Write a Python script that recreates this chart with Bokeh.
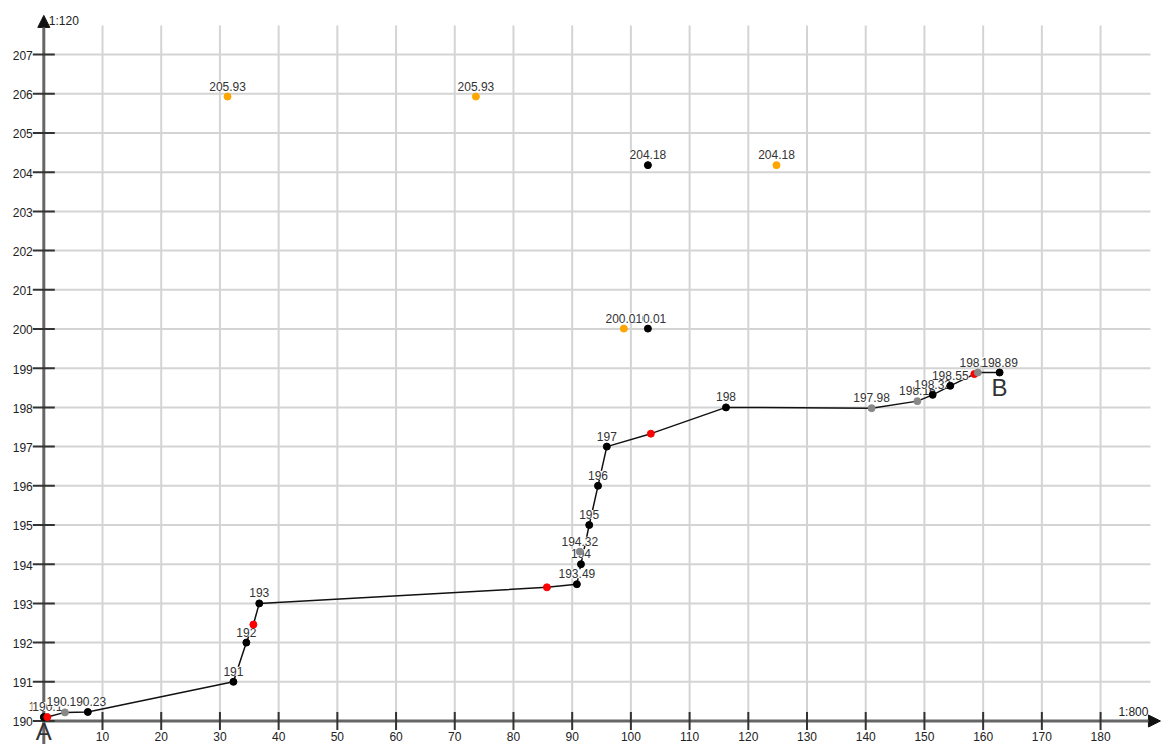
import numpy as np
from bokeh.plotting import figure
from bokeh.models import Range1d, Arrow, NormalHead
from bokeh.core.properties import value
from bokeh.embed import file_html
from bokeh.resources import INLINE

# ---------------- data ----------------
x_ticks = [10, 20, 30, 40, 50, 60, 70, 80, 90, 100, 110, 120, 130, 140, 150, 160, 170, 180]
x_tick_labels = [str(v) for v in x_ticks]
y_ticks = list(range(190, 208))
y_tick_labels = [str(v) for v in y_ticks]

route_x = [0.0, 0.6, 3.6, 7.5, 32.3, 34.5, 35.7, 36.7, 85.7, 90.8, 91.5, 92.9,
           94.4, 95.9, 103.4, 116.2, 141.0, 148.8, 151.4, 154.4, 158.5, 159.1, 162.8]
route_y = [190.1, 190.1, 190.22, 190.23, 191.0, 192.0, 192.46, 193.0, 193.41, 193.49, 194.0, 195.0,
           196.0, 197.0, 197.33, 198.0, 197.98, 198.16, 198.32, 198.55, 198.85, 198.89, 198.89]
route_kind = ["black", "red", "gray", "black", "black", "black", "red", "black", "red", "black", "black", "black",
              "black", "black", "red", "black", "gray", "gray", "black", "black", "red", "gray", "black"]
route_label = ["190.1", "190.1", "190.22", "190.23", "191", "192", "", "193", "", "193.49", "194", "195",
               "196", "197", "", "198", "197.98", "198.16", "198.32", "198.55", "", "198.89", "198.89"]

extra_x = [91.3, 102.9, 31.3, 73.6, 102.9, 124.8, 98.8]
extra_y = [194.32, 204.18, 205.93, 205.93, 200.01, 204.18, 200.01]
extra_kind = ["gray", "black", "orange", "orange", "black", "orange", "orange"]
extra_label = ["194.32", "204.18", "205.93", "205.93", "200.01", "204.18", "200.01"]

end_names = ["A", "B"]
end_x = [route_x[0], route_x[-1]]
end_y = [route_y[0], route_y[-1]]

x_axis_title = "1:800"
y_axis_title = "1:120"

# ---------------- styles ----------------
COLORS = {"black": "#000000", "red": "#ff0000", "gray": "#888888", "orange": "#ffa500"}
FONT = value("Liberation Sans")

X0, X1 = -7.375, 190.55
Y0, Y1 = 189.4005, 208.38
GRID_TOP = 207.74
GRID_RIGHT = 188.5
ARROW_TOP = 208.0
ARROW_RIGHT = 190.2

p = figure(width=1162, height=744, x_range=Range1d(X0, X1), y_range=Range1d(Y0, Y1),
           output_backend="svg", toolbar_location=None, min_border=0,
           x_axis_type=None, y_axis_type=None)
p.outline_line_color = None
p.background_fill_color = "white"

# grid
p.segment(x0=x_ticks, y0=[190] * len(x_ticks), x1=x_ticks, y1=[GRID_TOP] * len(x_ticks),
          line_color="#d4d4d4", line_width=2, level="image")
hy = y_ticks[1:]
p.segment(x0=[0] * len(hy), y0=hy, x1=[GRID_RIGHT] * len(hy), y1=hy,
          line_color="#d4d4d4", line_width=2, level="image")

# axes with arrow heads
p.add_layout(Arrow(end=NormalHead(size=12, fill_color="#111111", line_color="#111111"),
                   x_start=0, y_start=Y0, x_end=0, y_end=ARROW_TOP,
                   line_color="#666666", line_width=3, level="underlay"))
p.add_layout(Arrow(end=NormalHead(size=12, fill_color="#111111", line_color="#111111"),
                   x_start=0, y_start=190, x_end=ARROW_RIGHT, y_end=190,
                   line_color="#666666", line_width=3, level="underlay"))

# ticks
p.scatter(x=[0] * len(y_ticks), y=y_ticks, marker="dash", size=22, line_color="#333333", line_width=2)
p.scatter(x=x_ticks, y=[190] * len(x_ticks), marker="dash", angle=np.pi / 2, size=18,
          line_color="#333333", line_width=2)

# tick labels
p.text(x=[0] * len(y_ticks), y=y_ticks, text=y_tick_labels, x_offset=-11, y_offset=1,
       text_align="right", text_baseline="alphabetic", text_font=FONT,
       text_font_size="12px", text_color="#222222")
p.text(x=x_ticks, y=[190] * len(x_ticks), text=x_tick_labels, y_offset=11,
       text_align="center", text_baseline="top", text_font=FONT,
       text_font_size="12px", text_color="#222222")

# axis titles
p.text(x=[0], y=[ARROW_TOP], text=[y_axis_title], x_offset=5, y_offset=6,
       text_align="left", text_baseline="middle", text_font=FONT,
       text_font_size="12px", text_color="#222222")
p.text(x=[ARROW_RIGHT], y=[190], text=[x_axis_title], x_offset=-12, y_offset=-9,
       text_align="right", text_baseline="alphabetic", text_font=FONT,
       text_font_size="12px", text_color="#222222")

# route line
p.line(x=route_x, y=route_y, line_color="#111111", line_width=1.5)

# labels (white background hides lines under them)
lab_x = [x for x, t in zip(route_x, route_label) if t] + extra_x
lab_y = [y for y, t in zip(route_y, route_label) if t] + extra_y
lab_t = [t for t in route_label if t] + extra_label
p.text(x=lab_x, y=lab_y, text=lab_t, y_offset=-6, text_align="center", text_baseline="bottom",
       text_font=FONT, text_font_size="12px", text_color="#333333",
       background_fill_color="white")

# points
all_x = route_x + extra_x
all_y = route_y + extra_y
all_c = [COLORS[k] for k in route_kind + extra_kind]
p.scatter(x=all_x, y=all_y, size=7, fill_color=all_c, line_color=all_c)

# A / B
p.text(x=end_x, y=end_y, text=end_names, y_offset=1, text_align="center", text_baseline="top",
       text_font=FONT, text_font_size="24px", text_color="#333333")

open("out.html", "w").write(file_html(p, INLINE))
